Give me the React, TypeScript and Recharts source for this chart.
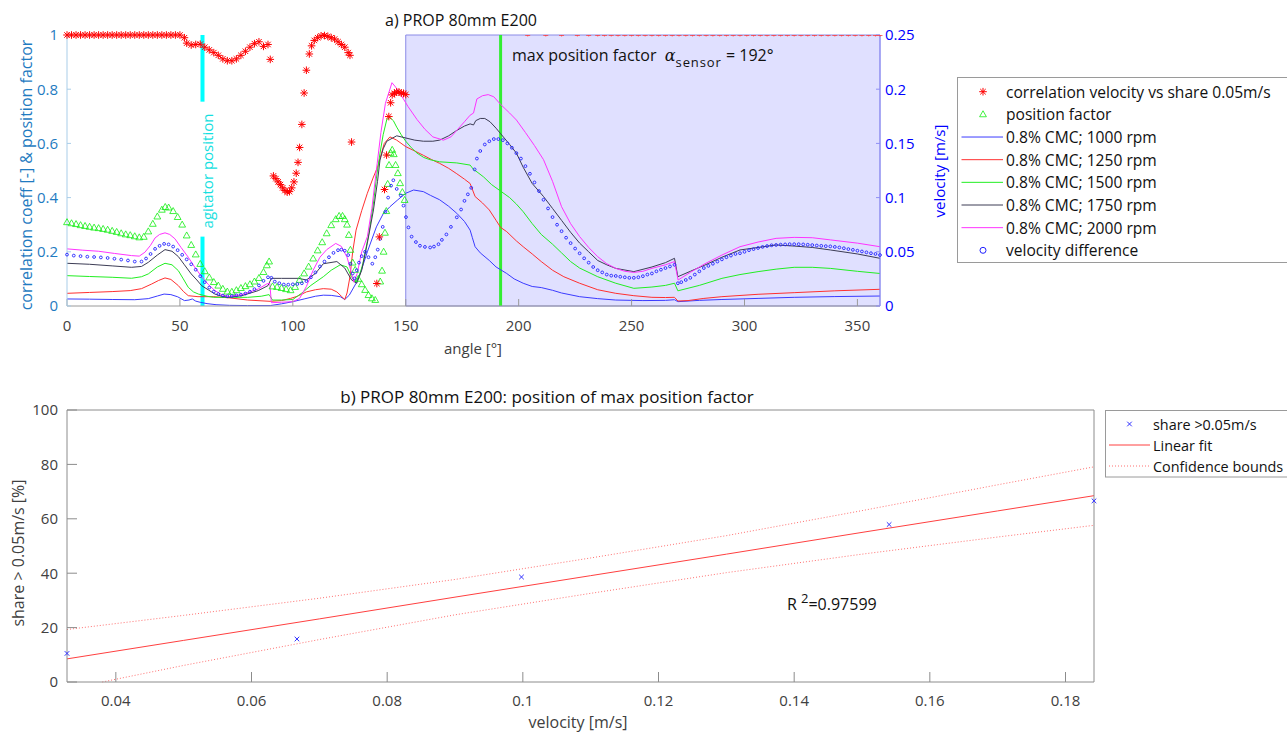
import React from 'react';
import { ComposedChart, Line, Scatter, XAxis, YAxis, ReferenceArea, ReferenceLine } from 'recharts';

const FONT = '"Open Sans", "DejaVu Sans", sans-serif';

// ---------------- a) top chart ----------------
const topXTicks = [0, 50, 100, 150, 200, 250, 300, 350];
const leftTicks = [0, 0.2, 0.4, 0.6, 0.8, 1];
const rightTicks = [0, 0.05, 0.1, 0.15, 0.2, 0.25];

// correlation velocity vs share 0.05 m/s (left axis)
const corrAngle = [0, 2, 4, 6, 8, 10, 12, 14, 16, 18, 20, 22, 24, 26, 28, 30, 32, 34, 36, 38, 40, 42, 44, 46, 48, 50,
  52, 53, 55, 57, 59, 61, 63, 65, 67, 69, 71, 73, 75, 77, 79, 81, 83, 85, 87, 89, 90,
  91.4, 92.5, 93.5, 94.5, 95.5, 96.5, 97.5, 98.5, 99.5, 100.5, 101.5, 102.3, 103, 104, 105, 106, 107.3, 108.3, 109.5, 111, 112.5, 114, 115.5, 117, 118.5, 120, 121.5, 123, 124.5, 125.3, 126,
  137.2, 138.3, 140.6, 141.5, 142.5, 143.3, 144, 145, 146, 147, 148, 149, 150];
const corrValue = [1, 1, 1, 1, 1, 1, 1, 1, 1, 1, 1, 1, 1, 1, 1, 1, 1, 1, 1, 1, 1, 1, 1, 1, 1, 1,
  0.99, 0.97, 0.963, 0.965, 0.966, 0.955, 0.945, 0.935, 0.925, 0.912, 0.905, 0.905, 0.912, 0.925, 0.94, 0.955, 0.968, 0.975, 0.958, 0.965, 0.91,
  0.48, 0.47, 0.458, 0.448, 0.436, 0.426, 0.42, 0.422, 0.436, 0.458, 0.49, 0.53, 0.585, 0.67, 0.786, 0.87, 0.93, 0.96, 0.98, 0.99, 0.997, 0.998, 0.995, 0.99, 0.985, 0.975, 0.965, 0.955, 0.935, 0.925, 0.605,
  0.083, 0.255, 0.43, 0.557, 0.699, 0.75, 0.779, 0.785, 0.79, 0.79, 0.785, 0.785, 0.78];
// correlation markers sitting on the upper limit (mostly clipped)
const corrTopAngle = [204, 212, 219, 226, 231, 235, 238, 241, 244, 247, 250, 253, 256, 259, 262, 265, 268, 271, 274, 277, 280, 283, 286, 289,
  292, 295, 298, 301, 304, 307, 310, 313, 316, 319, 322, 325, 328, 331, 334, 337, 340, 343, 346, 349, 352, 355, 358, 360];
const corrTopValue = [1, 1, 1, 1, 1, 1, 1, 1, 1, 1, 1, 1, 1, 1, 1, 1, 1, 1, 1, 1, 1, 1, 1, 1,
  1, 1, 1, 1, 1, 1, 1, 1, 1, 1, 1, 1, 1, 1, 1, 1, 1, 1, 1, 1, 1, 1, 1, 1];

// position factor (left axis)
const pfAngle = [0, 2, 4, 6, 8, 10, 12, 14, 16, 18, 20, 22, 24, 26, 28, 30, 32, 34, 36, 38, 40, 42,
  43.5, 45, 47, 49, 51, 53, 55, 57, 59, 61, 63, 65, 67, 69, 71, 73, 75, 77, 79, 81, 83, 85, 87, 88.5, 89.5,
  91, 93, 95, 97, 99, 101, 103, 105, 107, 109, 111, 113, 115, 117, 119, 120.5, 122, 123, 124, 124.8, 125.5, 126.5, 127.6, 129, 130.5, 132, 133.5, 135, 136.5,
  138.7, 139.5, 140.2, 140.8, 141.4, 142, 142.6, 143.3, 144, 144.7, 145.5, 146.5, 147.5, 148.5, 149.5];
const pfValue = [0.309, 0.305, 0.302, 0.298, 0.295, 0.292, 0.289, 0.287, 0.284, 0.281, 0.277, 0.273, 0.268, 0.264, 0.261, 0.257, 0.253, 0.255, 0.275, 0.303, 0.33, 0.355,
  0.365, 0.363, 0.35, 0.328, 0.3, 0.26, 0.225, 0.19, 0.155, 0.128, 0.105, 0.088, 0.075, 0.063, 0.053, 0.052, 0.058, 0.066, 0.073, 0.08, 0.09, 0.103, 0.125, 0.15, 0.164,
  0.072, 0.07, 0.066, 0.062, 0.058, 0.07, 0.096, 0.12, 0.145, 0.175, 0.205, 0.235, 0.268, 0.298, 0.32, 0.332, 0.332, 0.32, 0.3, 0.262, 0.207, 0.16, 0.133, 0.1, 0.08, 0.059, 0.04, 0.028, 0.022,
  0.09, 0.13, 0.2, 0.27, 0.35, 0.45, 0.52, 0.565, 0.576, 0.56, 0.52, 0.49, 0.453, 0.42, 0.391];

// 0.8% CMC velocity profiles (right axis, m/s)
const rpm1000Angle = [0, 10, 20, 30, 36, 40, 43, 46, 49, 52, 54, 55.5, 57, 59, 62, 66, 72, 80, 90, 95, 100, 105, 110, 113.5, 117, 121, 123, 125, 128, 130.5,
  133, 137, 140, 143, 146.5, 150, 153.5, 157.8, 161, 165, 169, 172.6, 176, 178.5, 179.5, 180.7, 183, 187, 190, 194.7, 198, 202, 206, 210, 215,
  219, 227, 235, 243, 255, 265, 269, 270.5, 280, 290, 306, 322, 340, 360];
const rpm1000 = [0.0065, 0.0063, 0.006, 0.0058, 0.0068, 0.0092, 0.011, 0.0105, 0.0085, 0.005, 0.0055, 0.0065, 0.0045, 0.0034, 0.0022, 0.0012, 0.0006, 0.0004, 0.0004, 0.002, 0.004, 0.0065, 0.009, 0.01, 0.0098, 0.0086, 0.006, 0.01, 0.021, 0.034,
  0.05, 0.073, 0.085, 0.0916, 0.098, 0.104, 0.107, 0.1055, 0.102, 0.098, 0.092, 0.0855, 0.078, 0.07, 0.063, 0.0547, 0.049, 0.042, 0.036, 0.03, 0.025, 0.021, 0.018, 0.017, 0.0145,
  0.012, 0.0086, 0.0068, 0.0055, 0.005, 0.0052, 0.0058, 0.004, 0.0052, 0.006, 0.007, 0.008, 0.0087, 0.0092];

const rpm1250Angle = [0, 10, 20, 28, 33, 37.5, 40.5, 43.4, 46, 49.3, 51.5, 53.7, 58, 65, 72, 80, 90, 95, 99, 102, 106, 110, 113.5, 117, 119.5,
  121.5, 123, 124, 125.3, 126.5, 128, 130.5, 133, 135.5, 137.5, 140.5, 143, 146, 150, 154, 157.8, 161.5, 165, 169, 172.6, 176, 178.5, 180.7, 184, 187,
  190, 192, 194.7, 199, 202, 206, 210, 215, 220, 227, 235, 243, 251, 259, 265, 269, 270.5, 275, 282, 290, 306, 322, 340, 360];
const rpm1250 = [0.0117, 0.0125, 0.0133, 0.0142, 0.016, 0.0203, 0.0235, 0.0259, 0.0245, 0.0188, 0.0135, 0.0095, 0.0086, 0.0086, 0.0075, 0.0055, 0.0043, 0.005, 0.007, 0.009, 0.013, 0.015, 0.016, 0.0155, 0.013,
  0.009, 0.006, 0.012, 0.027, 0.05, 0.07, 0.088, 0.104, 0.118, 0.128, 0.15, 0.156, 0.153, 0.147, 0.143, 0.139, 0.135, 0.1316, 0.127, 0.122, 0.117, 0.113, 0.101, 0.095, 0.0886,
  0.079, 0.0725, 0.0686, 0.06, 0.0547, 0.048, 0.041, 0.033, 0.027, 0.021, 0.015, 0.0117, 0.0095, 0.008, 0.0078, 0.008, 0.0046, 0.005, 0.007, 0.0086, 0.0108, 0.0123, 0.014, 0.0154];

const rpm1500Angle = [0, 10, 20, 28.6, 33, 36, 40, 43.4, 46.5, 49.3, 51.5, 53.7, 56, 58.2, 62, 65, 80, 86, 89.5, 91, 95, 100, 104, 108, 113.5,
  117, 121, 124, 126, 127.6, 129.5, 131, 133.5, 135.7, 137, 138.6, 140, 141.6, 143, 144.5, 146, 148, 150, 152.5, 155, 158, 160.7, 165, 172.6, 178.5,
  180, 182, 184.5, 188, 192, 196, 199, 202, 206, 210, 215, 219, 223, 227, 235, 243, 251, 259, 265, 269, 270.5, 280, 290, 298, 306, 314, 322, 330, 338, 350, 360];
const rpm1500 = [0.028, 0.0272, 0.0265, 0.0256, 0.027, 0.0296, 0.036, 0.0394, 0.038, 0.0326, 0.025, 0.0172, 0.013, 0.011, 0.009, 0.008, 0.008, 0.009, 0.0105, 0.0055, 0.0055, 0.006, 0.012, 0.019, 0.027,
  0.033, 0.038, 0.036, 0.027, 0.022, 0.028, 0.039, 0.065, 0.095, 0.118, 0.141, 0.158, 0.172, 0.174, 0.171, 0.165, 0.158, 0.152, 0.146, 0.141, 0.137, 0.135, 0.133, 0.132, 0.13,
  0.126, 0.123, 0.119, 0.112, 0.106, 0.1, 0.094, 0.087, 0.076, 0.066, 0.057, 0.049, 0.041, 0.035, 0.027, 0.021, 0.0163, 0.0175, 0.019, 0.021, 0.014, 0.019, 0.0255, 0.029, 0.0317, 0.034, 0.0357, 0.0357, 0.0347, 0.032, 0.03];

const rpm1750Angle = [0, 10, 20, 28.6, 33, 36, 40, 43.4, 46.5, 49.3, 52, 55, 57.5, 59.6, 62.5, 65.5, 68.5, 71.4, 77.4, 84.7, 89, 90.5, 95, 102.5, 106,
  110, 113.5, 119.5, 123, 126, 128.3, 130.5, 133, 135.7, 137.5, 138.6, 140, 141.6, 146, 150, 154, 157.8, 162, 165, 169, 172.6, 176, 178.5, 180, 181,
  183, 185, 187.3, 190, 192, 196, 199, 202, 206, 211, 215, 219, 223, 227, 231, 235, 239, 243, 251, 259, 265, 269, 270.5, 276, 282.5, 290, 298, 306, 314, 322, 330, 338, 350, 360];
const rpm1750 = [0.0394, 0.0385, 0.037, 0.0357, 0.0365, 0.0403, 0.047, 0.052, 0.0505, 0.0456, 0.038, 0.0296, 0.024, 0.0188, 0.015, 0.011, 0.009, 0.008, 0.0095, 0.0142, 0.0188, 0.0255, 0.0255, 0.0255, 0.024,
  0.03, 0.039, 0.041, 0.035, 0.024, 0.021, 0.033, 0.058, 0.0886, 0.115, 0.1347, 0.145, 0.152, 0.157, 0.155, 0.153, 0.152, 0.152, 0.153, 0.157, 0.162, 0.166, 0.168, 0.167, 0.171,
  0.173, 0.173, 0.17, 0.164, 0.159, 0.149, 0.141, 0.128, 0.113, 0.101, 0.09, 0.079, 0.068, 0.058, 0.05, 0.042, 0.038, 0.0347, 0.0317, 0.036, 0.04, 0.044, 0.027, 0.032, 0.0378, 0.045, 0.0517, 0.054, 0.0563, 0.0553, 0.054, 0.0517, 0.048, 0.044];

const rpm2000Angle = [0, 7, 14, 21, 28.6, 32, 34.5, 37, 39, 41, 43.4, 45.5, 47.8, 50.5, 53.7, 56.5, 59.6, 62.5, 65.5, 68.5, 71.4, 77.4, 84.7, 88.4, 89.8,
  90.5, 95, 100, 103, 106, 109, 112, 115, 119, 121.5, 124, 125.5, 127, 128.5, 130.5, 133, 135, 137, 139, 141, 143.9, 145.5, 147.5, 151, 155,
  158.5, 162, 166.7, 170, 172.6, 176, 178.5, 180, 181.5, 184, 186.5, 189, 192, 196, 199, 203, 207, 211, 215, 219, 223, 227, 231, 235, 239,
  243, 247, 251, 255, 259, 265, 269, 270.6, 276, 282.5, 290, 298, 306, 314, 322, 330, 338, 350, 360];
const rpm2000 = [0.0527, 0.0515, 0.0505, 0.0485, 0.0465, 0.046, 0.0496, 0.056, 0.0628, 0.066, 0.0675, 0.066, 0.062, 0.054, 0.045, 0.036, 0.0271, 0.02, 0.0142, 0.0105, 0.0086, 0.0105, 0.0157, 0.0203, 0.021,
  0.003, 0.0035, 0.004, 0.007, 0.018, 0.033, 0.045, 0.052, 0.0577, 0.055, 0.045, 0.034, 0.022, 0.03, 0.05, 0.064, 0.09, 0.1255, 0.16, 0.187, 0.206, 0.202, 0.196, 0.184, 0.172,
  0.163, 0.156, 0.153, 0.156, 0.162, 0.17, 0.176, 0.178, 0.191, 0.194, 0.195, 0.193, 0.186, 0.178, 0.1716, 0.16, 0.148, 0.135, 0.115, 0.0916, 0.076, 0.064, 0.054, 0.0455, 0.039,
  0.0347, 0.032, 0.031, 0.032, 0.0347, 0.038, 0.041, 0.024, 0.031, 0.039, 0.047, 0.0547, 0.059, 0.0624, 0.0633, 0.063, 0.061, 0.058, 0.0547];

// velocity difference (right axis, m/s)
const vdAngle = [0, 3, 6, 9, 12, 15, 18, 21, 24, 27, 30, 33, 35, 37, 39, 41, 43, 45, 47, 49, 51, 53, 55, 57, 59, 61, 63, 65, 67, 69, 71, 73, 75, 77, 79, 81, 83, 85, 87, 89,
  90.5, 92, 94, 96, 98, 100, 102, 104, 106, 108, 110, 112, 114, 116, 118, 120, 121.5, 123, 124.5, 125.5, 126.5, 127.3, 128.3, 129.3, 130.5, 132, 133.5, 135.2, 136.5, 137.6,
  138.7, 139.8, 141, 142.2, 143.5, 144.5, 146, 147.8, 149, 150.1, 151.2, 152.6, 154.5, 156.3, 158.5, 160.8, 162.5, 164.5, 166, 168, 170, 172.6, 174.5, 176, 177.5, 179,
  180.5, 181.5, 183, 185, 187, 189, 191, 193, 195, 197, 199, 201, 203, 205, 207, 209, 211, 213, 215, 217, 219, 221, 223, 225, 227, 229, 231, 233, 235, 237, 239, 241, 243,
  245, 247, 249, 251, 253, 255, 257, 259, 261, 263, 265, 267, 269, 270.5,
  272, 274, 276, 278, 280, 282, 284, 286, 288, 290, 292, 294, 296, 298, 300, 302, 304, 306, 308, 310, 312, 314, 316, 318, 320, 322, 324, 326, 328, 330,
  332, 334, 336, 338, 340, 342, 344, 346, 348, 350, 352, 354, 356, 358, 360];
const vdValue = [0.0474, 0.0465, 0.046, 0.0455, 0.0452, 0.0448, 0.0443, 0.0436, 0.0428, 0.042, 0.041, 0.041, 0.0438, 0.048, 0.0527, 0.0555, 0.0573, 0.0568, 0.0548, 0.0515, 0.0472, 0.043, 0.0385, 0.0335, 0.0275, 0.022, 0.017, 0.0133, 0.011, 0.0096, 0.009, 0.0092, 0.0098, 0.0105, 0.0115, 0.0132, 0.0155, 0.019, 0.0232, 0.0265,
  0.026, 0.0225, 0.021, 0.0198, 0.0197, 0.02, 0.0203, 0.021, 0.023, 0.0265, 0.031, 0.0365, 0.041, 0.045, 0.049, 0.0515, 0.052, 0.051, 0.047, 0.039, 0.03, 0.0255, 0.033, 0.04, 0.046, 0.05, 0.045, 0.039, 0.045, 0.052,
  0.062, 0.073, 0.087, 0.1, 0.111, 0.116, 0.108, 0.102, 0.0926, 0.082, 0.0725, 0.064, 0.059, 0.0556, 0.0545, 0.054, 0.0548, 0.057, 0.061, 0.066, 0.073, 0.0818, 0.089, 0.097, 0.103, 0.109,
  0.126, 0.136, 0.143, 0.149, 0.152, 0.154, 0.154, 0.153, 0.15, 0.146, 0.141, 0.136, 0.129, 0.122, 0.114, 0.106, 0.098, 0.09, 0.082, 0.075, 0.069, 0.063, 0.058, 0.053, 0.0486, 0.044, 0.04, 0.036, 0.033, 0.031, 0.029, 0.028, 0.0277,
  0.027, 0.0265, 0.026, 0.026, 0.0265, 0.0275, 0.029, 0.03, 0.032, 0.0335, 0.035, 0.0365, 0.038, 0.021,
  0.022, 0.024, 0.026, 0.029, 0.032, 0.035, 0.037, 0.039, 0.041, 0.043, 0.045, 0.0465, 0.048, 0.0487, 0.05, 0.0515, 0.0525, 0.0535, 0.0545, 0.0553, 0.056, 0.0563, 0.0566, 0.0568, 0.057, 0.057, 0.057, 0.0568, 0.0565, 0.0562,
  0.0558, 0.0555, 0.0552, 0.055, 0.0545, 0.054, 0.0533, 0.0525, 0.0518, 0.051, 0.0503, 0.0495, 0.0487, 0.048, 0.047];

// ---------------- b) bottom chart ----------------
const shareVelocity = [0.0328, 0.0667, 0.0998, 0.154, 0.1842];
const sharePercent = [10.5, 15.8, 38.6, 57.9, 66.6];
const fitVelocity = [0.0328, 0.05, 0.07, 0.09, 0.11, 0.13, 0.15, 0.17, 0.1842];
const fitPercent = [8.5, 15.3, 23.2, 31.2, 39.1, 47.0, 55.0, 62.9, 68.5];
const upperPercent = [19.3, 24.5, 30.8, 37.7, 45.6, 53.8, 63.0, 72.5, 79.1];
const lowerVelocity = [0.038, 0.05, 0.07, 0.09, 0.11, 0.13, 0.15, 0.17, 0.1842];
const lowerPercent = [0, 6.1, 15.6, 24.7, 32.6, 40.2, 47.0, 53.3, 57.6];
const botXTicks = [0.04, 0.06, 0.08, 0.1, 0.12, 0.14, 0.16, 0.18];
const botYTicks = [0, 20, 40, 60, 80, 100];

const zipA = (a: number[], v: number[]) =>
  a.slice(0, Math.min(a.length, v.length)).map((x, i) => ({ a: x, v: v[i] }));
const zipX = (a: number[], v: number[]) =>
  a.slice(0, Math.min(a.length, v.length)).map((x, i) => ({ x, y: v[i] }));

const C_LEFT = '#1f7bc1';
const C_RIGHT = '#0000ff';
const C_1000 = '#3b3bff';
const C_1250 = '#ff3030';
const C_1500 = '#22ee22';
const C_1750 = '#3c3c55';
const C_2000 = '#ff33ff';

const Star = (p: any) => {
  const { cx, cy } = p;
  if (cx == null || cy == null) return <g />;
  const r = 3.8;
  const d = r * 0.72;
  return (
    <g stroke="#ff0000" strokeWidth={1}>
      <line x1={cx - r} y1={cy} x2={cx + r} y2={cy} />
      <line x1={cx} y1={cy - r} x2={cx} y2={cy + r} />
      <line x1={cx - d} y1={cy - d} x2={cx + d} y2={cy + d} />
      <line x1={cx - d} y1={cy + d} x2={cx + d} y2={cy - d} />
    </g>
  );
};
const HalfStar = (p: any) => {
  const { cx, cy } = p;
  if (cx == null || cy == null) return <g />;
  return (
    <g stroke="#ff4040" strokeWidth={0.8}>
      <line x1={cx - 2.5} y1={cy + 0.5} x2={cx + 2.5} y2={cy + 0.5} />
      <line x1={cx} y1={cy} x2={cx} y2={cy + 1.5} />
    </g>
  );
};
const Tri = (p: any) => {
  const { cx, cy } = p;
  if (cx == null || cy == null) return <g />;
  return (
    <polygon points={`${cx},${cy - 3.6} ${cx - 3.4},${cy + 2.4} ${cx + 3.4},${cy + 2.4}`}
      fill="none" stroke="#11ee11" strokeWidth={0.8} />
  );
};
const Circ = (p: any) => {
  const { cx, cy } = p;
  if (cx == null || cy == null) return <g />;
  return <circle cx={cx} cy={cy} r={1.4} fill="none" stroke="#2222ff" strokeWidth={0.9} />;
};
const XMark = (p: any) => {
  const { cx, cy } = p;
  if (cx == null || cy == null) return <g />;
  const r = 2.3;
  return (
    <g stroke="#3030ff" strokeWidth={1}>
      <line x1={cx - r} y1={cy - r} x2={cx + r} y2={cy + r} />
      <line x1={cx - r} y1={cy + r} x2={cx + r} y2={cy - r} />
    </g>
  );
};

const Txt = ({ x, y, children, size = 15, color = '#222', rotate = false, style = {} }: any) => (
  <div style={{
    position: 'absolute', left: x, top: y, whiteSpace: 'nowrap', fontSize: size, color, fontFamily: FONT,
    lineHeight: 1, transform: `translate(-50%, -50%)${rotate ? ' rotate(-90deg)' : ''}`, ...style,
  }}>{children}</div>
);

export default function App() {
  const corr = zipA(corrAngle, corrValue);
  const corrTop = zipA(corrTopAngle, corrTopValue);
  const pf = zipA(pfAngle, pfValue);
  const vd = zipA(vdAngle, vdValue);
  const l1000 = zipA(rpm1000Angle, rpm1000);
  const l1250 = zipA(rpm1250Angle, rpm1250);
  const l1500 = zipA(rpm1500Angle, rpm1500);
  const l1750 = zipA(rpm1750Angle, rpm1750);
  const l2000 = zipA(rpm2000Angle, rpm2000);

  const pts = zipX(shareVelocity, sharePercent);
  const fit = zipX(fitVelocity, fitPercent);
  const up = zipX(fitVelocity, upperPercent);
  const lo = zipX(lowerVelocity, lowerPercent);

  const tickStyle = { fontSize: 15, fontFamily: FONT };

  const topLegend = [
    { k: 'star', label: 'correlation velocity vs share 0.05m/s' },
    { k: 'tri', label: 'position factor' },
    { k: 'line', c: C_1000, label: '0.8% CMC; 1000 rpm' },
    { k: 'line', c: C_1250, label: '0.8% CMC; 1250 rpm' },
    { k: 'line', c: C_1500, label: '0.8% CMC; 1500 rpm' },
    { k: 'line', c: C_1750, label: '0.8% CMC; 1750 rpm' },
    { k: 'line', c: C_2000, label: '0.8% CMC; 2000 rpm' },
    { k: 'circ', label: 'velocity difference' },
  ];

  return (
    <div style={{ position: 'absolute', left: 0, top: 0, width: 1287, height: 735, overflow: 'hidden', background: '#fff', fontFamily: FONT }}>
      {/* ---------- top chart ---------- */}
      <div style={{ position: 'absolute', left: 0, top: 0 }}>
        <ComposedChart width={960} height={360} margin={{ top: 35, right: 20, bottom: 14, left: 0 }}>
          <XAxis dataKey="a" type="number" domain={[0, 360]} ticks={topXTicks} height={40}
            stroke="#9a9a9a" tickSize={-7} tickMargin={21} tick={{ ...tickStyle, fill: '#404040' }} />
          <YAxis yAxisId="left" type="number" domain={[0, 1]} ticks={leftTicks} width={67}
            stroke="#a9cde8" tickSize={-4} tickMargin={13} tick={{ ...tickStyle, fill: C_LEFT }}
            tickFormatter={(v: number) => String(v)} />
          <YAxis yAxisId="right" orientation="right" type="number" domain={[0, 0.25]} ticks={rightTicks} width={60}
            stroke="#8f8ff5" tickSize={-4} tickMargin={9} tick={{ ...tickStyle, fill: C_RIGHT }}
            tickFormatter={(v: number) => String(v)} />
          <ReferenceArea yAxisId="left" x1={150} x2={360} y1={0} y2={1} fill="#0000ff" fillOpacity={0.12}
            stroke="#8a8ae6" strokeWidth={1} />
          <ReferenceLine yAxisId="left" segment={[{ x: 60, y: 1 }, { x: 60, y: 0.754 }]} stroke="#00ffff" strokeWidth={4} />
          <ReferenceLine yAxisId="left" segment={[{ x: 60, y: 0.256 }, { x: 60, y: 0 }]} stroke="#00ffff" strokeWidth={4} />
          <ReferenceLine yAxisId="left" x={192} stroke="#33ee33" strokeWidth={3} />

          <Line yAxisId="right" data={l1000} dataKey="v" stroke={C_1000} strokeWidth={1} dot={false} isAnimationActive={false} />
          <Line yAxisId="right" data={l1250} dataKey="v" stroke={C_1250} strokeWidth={1} dot={false} isAnimationActive={false} />
          <Line yAxisId="right" data={l1500} dataKey="v" stroke={C_1500} strokeWidth={1} dot={false} isAnimationActive={false} />
          <Line yAxisId="right" data={l1750} dataKey="v" stroke={C_1750} strokeWidth={1} dot={false} isAnimationActive={false} />
          <Line yAxisId="right" data={l2000} dataKey="v" stroke={C_2000} strokeWidth={1} dot={false} isAnimationActive={false} />

          <Scatter yAxisId="left" data={pf} dataKey="v" shape={Tri} isAnimationActive={false} />
          <Scatter yAxisId="right" data={vd} dataKey="v" shape={Circ} isAnimationActive={false} />
          <Scatter yAxisId="left" data={corr} dataKey="v" shape={Star} isAnimationActive={false} />
          <Scatter yAxisId="left" data={corrTop} dataKey="v" shape={HalfStar} isAnimationActive={false} />
        </ComposedChart>
      </div>

      <Txt x={461} y={20} size={16} color="#111">a) PROP 80mm E200</Txt>
      <Txt x={473} y={348} color="#404040">angle [°]</Txt>
      <Txt x={26} y={175} size={16} color={C_LEFT} rotate>correlation coeff [-] &amp; position factor</Txt>
      <Txt x={939} y={171} color={C_RIGHT} rotate>velocity [m/s]</Txt>
      <Txt x={207} y={171} color="#14e0e0" rotate>agitator position</Txt>
      <div style={{ position: 'absolute', left: 512, top: 47, whiteSpace: 'nowrap', fontSize: 16, color: '#111', fontFamily: FONT, lineHeight: 1 }}>
        max position factor&nbsp;&nbsp;<span style={{ fontFamily: '"DejaVu Serif", serif', fontStyle: 'italic' }}>α</span>
        <span style={{ fontSize: 13, letterSpacing: 0.9, position: 'relative', top: 6 }}>sensor</span> = 192°
      </div>

      {/* top legend */}
      <svg style={{ position: 'absolute', left: 957, top: 77 }} width={330} height={187}>
        <rect x={0.5} y={0.5} width={345} height={185} fill="#fff" stroke="#9a9a9a" />
        {topLegend.map((e, i) => {
          const cy = 14.7 + i * 22.66;
          return (
            <g key={i}>
              {e.k === 'line' && <line x1={4.5} x2={46} y1={cy} y2={cy} stroke={e.c} strokeWidth={1} />}
              {e.k === 'star' && <Star cx={26} cy={cy} />}
              {e.k === 'tri' && <Tri cx={26} cy={cy} />}
              {e.k === 'circ' && <circle cx={26} cy={cy} r={3} fill="none" stroke="#2222ff" strokeWidth={1} />}
              <text x={49} y={cy} dominantBaseline="central" fontSize={15.6} fontFamily={FONT} fill="#111">{e.label}</text>
            </g>
          );
        })}
      </svg>

      {/* ---------- bottom chart ---------- */}
      <div style={{ position: 'absolute', left: 0, top: 375 }}>
        <ComposedChart width={1100} height={360} margin={{ top: 34, right: 5, bottom: 13, left: 0 }}>
          <XAxis xAxisId="b" dataKey="x" type="number" domain={[0.0328, 0.1842]} ticks={botXTicks} height={40}
            stroke="#8c8c8c" tickSize={-10} tickMargin={23} tick={{ ...tickStyle, fill: '#404040' }}
            tickFormatter={(v: number) => String(Math.round(v * 100) / 100)} />
          <XAxis xAxisId="t" orientation="top" dataKey="x" type="number" domain={[0.0328, 0.1842]} ticks={botXTicks} height={1}
            stroke="#8c8c8c" tickSize={-10} tick={false} />
          <YAxis yAxisId="l" type="number" domain={[0, 100]} ticks={botYTicks} width={67}
            stroke="#8c8c8c" tickSize={-10} tickMargin={19} tick={{ ...tickStyle, fill: '#404040' }} />
          <YAxis yAxisId="r" orientation="right" type="number" domain={[0, 100]} ticks={botYTicks} width={1}
            stroke="#8c8c8c" tickSize={-10} tick={false} />
          <Line xAxisId="b" yAxisId="l" data={up} dataKey="y" stroke="#ff7070" strokeWidth={1} strokeDasharray="1 2" dot={false} isAnimationActive={false} />
          <Line xAxisId="b" yAxisId="l" data={lo} dataKey="y" stroke="#ff7070" strokeWidth={1} strokeDasharray="1 2" dot={false} isAnimationActive={false} />
          <Line xAxisId="b" yAxisId="l" data={fit} dataKey="y" stroke="#ff4040" strokeWidth={1} dot={false} isAnimationActive={false} />
          <Scatter xAxisId="b" yAxisId="l" data={pts} dataKey="y" shape={XMark} isAnimationActive={false} />
        </ComposedChart>
      </div>

      <Txt x={547} y={396} size={17} color="#111">b) PROP 80mm E200: position of max position factor</Txt>
      <Txt x={18} y={553} size={16} color="#404040" rotate>share &gt; 0.05m/s [%]</Txt>
      <Txt x={578} y={722} size={16} color="#404040">velocity [m/s]</Txt>
      <div style={{ position: 'absolute', left: 787, top: 596, whiteSpace: 'nowrap', fontSize: 16, color: '#111', fontFamily: FONT, lineHeight: 1 }}>
        R <span style={{ fontSize: 13, position: 'relative', top: -7 }}>2</span>=0.97599
      </div>

      {/* bottom legend */}
      <svg style={{ position: 'absolute', left: 1105, top: 410 }} width={182} height={68}>
        <rect x={0.5} y={0.5} width={200} height={66.5} fill="#fff" stroke="#9a9a9a" />
        <XMark cx={24.5} cy={14} />
        <text x={48} y={14} dominantBaseline="central" fontSize={14.4} fontFamily={FONT} fill="#111">share &gt;0.05m/s</text>
        <line x1={4} x2={45} y1={35} y2={35} stroke="#ff4040" strokeWidth={1} />
        <text x={48} y={35} dominantBaseline="central" fontSize={14.4} fontFamily={FONT} fill="#111">Linear fit</text>
        <line x1={4} x2={45} y1={56} y2={56} stroke="#ff7070" strokeWidth={1} strokeDasharray="1 2" />
        <text x={48} y={56} dominantBaseline="central" fontSize={14.4} fontFamily={FONT} fill="#111">Confidence bounds</text>
      </svg>
    </div>
  );
}
